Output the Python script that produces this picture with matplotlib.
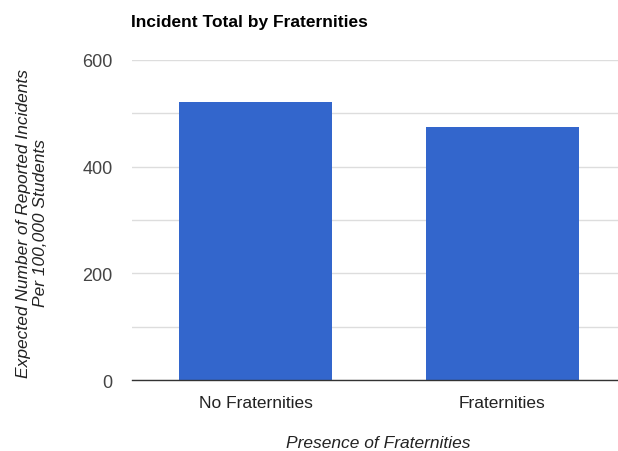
import matplotlib
matplotlib.use("Agg")
import matplotlib.pyplot as plt

categories = ["No Fraternities", "Fraternities"]
values = [521, 474]
yticks = [0, 200, 400, 600]

plt.rcParams['font.family'] = ['Liberation Sans', 'DejaVu Sans']

fig = plt.figure(figsize=(6.18, 4.52), dpi=100)
ax = fig.add_axes([132/618, 1-381/452, (626-132)/618, (381-61)/452])

x = list(range(len(categories)))
ax.bar(x, values, width=0.62, color="#3366CC", zorder=3)
ax.set_xlim(-0.5, 1.5)
ax.set_ylim(0, 600)
ax.set_yticks(yticks)
ax.set_yticks(range(0, 601, 100), minor=True)
ax.grid(axis='y', which='both', color='#dddddd', linewidth=1, zorder=0)
ax.set_xticks(x)
ax.set_xticklabels(categories, fontsize=12.5, color='#222222')
ax.tick_params(axis='y', labelsize=13, labelcolor='#444444', length=0, which='both', pad=14)
ax.tick_params(axis='x', length=0, pad=11)
for s in ['top', 'right', 'left']:
    ax.spines[s].set_visible(False)
ax.spines['bottom'].set_color('#333333')
ax.spines['bottom'].set_linewidth(1)
ax.spines['bottom'].set_zorder(4)

fig.text(131/618, 1-23/452, "Incident Total by Fraternities", fontsize=12.5, fontweight='bold',
         color='#000000', ha='left', va='center')
fig.text(32/618, 1-223/452, "Expected Number of Reported Incidents\nPer 100,000 Students",
         rotation=90, fontsize=12.5, style='italic', color='#222222', ha='center', va='center',
         multialignment='center', linespacing=1.15)
fig.text(378/618, 1-444/452, "Presence of Fraternities", fontsize=12.5, style='italic',
         color='#222222', ha='center', va='center')

fig.savefig("out.png", dpi=100)
